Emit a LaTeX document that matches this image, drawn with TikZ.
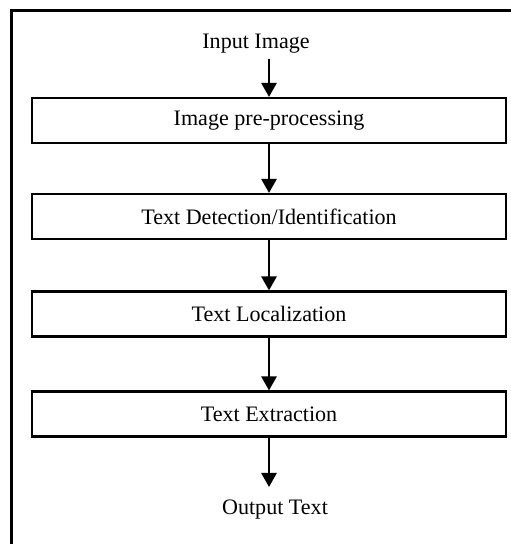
\documentclass[tikz,border=0pt]{standalone}
\usepackage{fontspec}
\setmainfont{Liberation Serif}
\usetikzlibrary{arrows.meta}

\def\stageX{269}

\begin{document}
\begin{tikzpicture}[x=0.025cm, y=-0.025cm,
    every node/.style={font=\fontsize{15.7}{18}\selectfont},
    stage/.style={draw, line width=1.6pt, minimum width=11.85cm, minimum height=1.125cm},
    flow/.style={-{Triangle[length=10pt,width=11pt]}, line width=1.2pt}]
      \useasboundingbox (0,0) rectangle (511,544);

      % outer frame, only top and left edge visible
      \draw[line width=1.8pt]
        (11.5,544) |- (511,10.5)
      ;

      \node (input) at (256,44) {Input Image};
      \node[stage] (preproc) at (\stageX,120.5) {Image pre-processing};
      \node[stage] (detect) at (\stageX,216.5) {Text Detection/Identification};
      \node[stage] (localize) at (\stageX,314) {Text Localization};
      \node[stage] (extract) at (\stageX,414) {Text Extraction};
      \node (output) at (275,510) {Output Text};

      \draw[flow]
        (preproc.north |- input.south) -- (preproc.north)
      ;
      \draw[flow] (preproc) -- (detect);
      \draw[flow] (detect) -- (localize);
      \draw[flow] (localize) -- (extract);
      \draw[flow, shorten >=6pt]
        (extract.south) -- (extract.south |- output.north)
      ;
    \end{tikzpicture}
\end{document}
